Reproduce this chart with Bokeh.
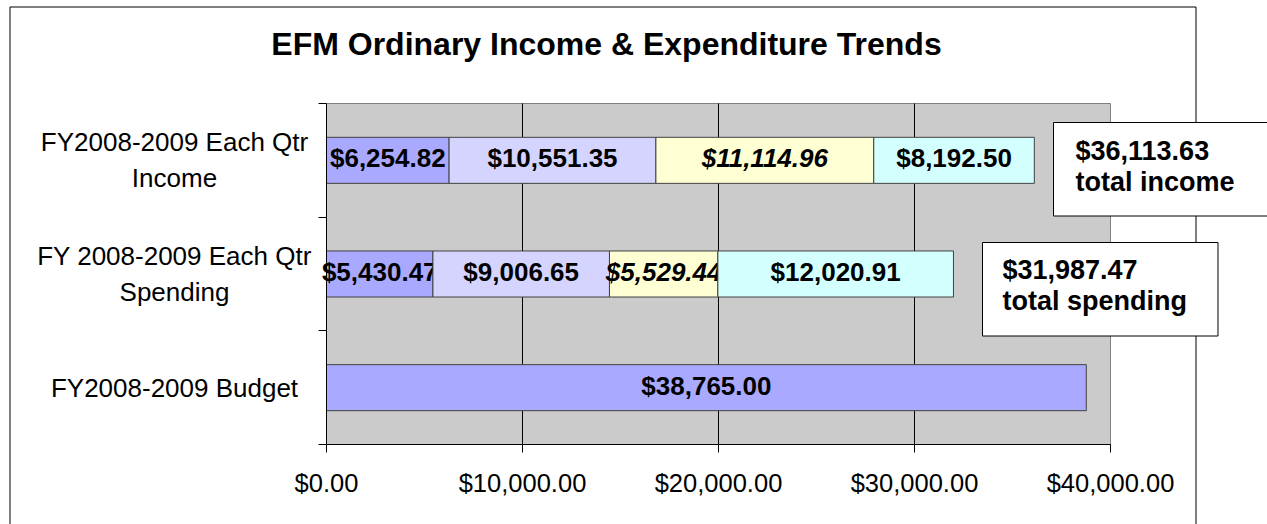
import numpy as np
from bokeh.plotting import figure
from bokeh.models import (Range1d, LinearAxis, FixedTicker,
                          NumeralTickFormatter, Label, BoxAnnotation)
from bokeh.core.properties import value
from bokeh.embed import file_html
from bokeh.resources import INLINE

# ---------------- data ----------------
categories = ["FY2008-2009 Budget",
              "FY 2008-2009 Each Qtr\nSpending",
              "FY2008-2009 Each Qtr\nIncome"]
income_qtr = [6254.82, 10551.35, 11114.96, 8192.50]
spending_qtr = [5430.47, 9006.65, 5529.44, 12020.91]
budget = [38765.00]
qtr_colors = ["#A9A9FF", "#D4D4FF", "#FFFFD4", "#D4FFFF"]
qtr_font_styles = ["bold", "bold", "bold italic", "bold"]
x_ticks = [0, 10000, 20000, 30000, 40000]
title_text = "EFM Ordinary Income & Expenditure Trends"

FONT = "Liberation Sans"
W, H = 1267, 524
# pixel box of the plot area on the canvas (layout only)
PA_L, PA_R, PA_T, PA_B = 326, 1110, 103, 444

n = len(categories)
ypos = {c: i + 0.5 for i, c in enumerate(categories)}   # band centres
x_lo, x_hi = x_ticks[0], x_ticks[-1]
kx = (x_hi - x_lo) / (PA_R - PA_L)
ky = n / (PA_B - PA_T)
def px_to_x(px):
    return x_lo + (px - PA_L) * kx

p = figure(width=W, height=H,
           x_range=Range1d(px_to_x(0), px_to_x(W)),
           y_range=Range1d(-(H - PA_B) * ky, n + PA_T * ky),
           output_backend="svg", toolbar_location=None,
           x_axis_location=None, y_axis_location=None,
           min_border=0, min_border_left=0, min_border_right=0,
           min_border_top=0, min_border_bottom=0)
p.title.visible = False
p.background_fill_color = "white"
p.border_fill_color = "white"
p.outline_line_color = None
p.grid.visible = False

# outer chart border
p.add_layout(BoxAnnotation(left=9.5, right=1195.5, top=6.5, bottom=H + 20,
                           left_units="canvas", right_units="canvas",
                           top_units="canvas", bottom_units="canvas",
                           fill_color=None, fill_alpha=0,
                           line_color="black", line_width=1, line_alpha=1))

# plot area (grey)
p.add_layout(BoxAnnotation(left=x_lo, right=x_hi, bottom=0, top=n,
                           fill_color="#CBCBCB", fill_alpha=1,
                           line_color="#808080", line_width=1, line_alpha=1,
                           level="underlay"))

# vertical gridlines at the x ticks
p.segment(x0=x_ticks[1:-1], y0=[0] * (len(x_ticks) - 2),
          x1=x_ticks[1:-1], y1=[n] * (len(x_ticks) - 2),
          line_color="black", line_width=1)

# x axis
xax = LinearAxis(fixed_location=0, bounds=(x_lo, x_hi),
                 ticker=FixedTicker(ticks=x_ticks),
                 formatter=NumeralTickFormatter(format="$0,0.00"),
                 major_tick_out=8, major_tick_in=0, minor_tick_line_color=None,
                 axis_line_color="black", major_tick_line_color="black",
                 major_label_text_font=FONT, major_label_text_font_size="25.5px",
                 major_label_text_color="black", major_label_standoff=16)
p.add_layout(xax, "below")

# y axis: tick marks at band boundaries
yax = LinearAxis(fixed_location=x_lo, bounds=(0, n),
                 ticker=FixedTicker(ticks=list(range(n + 1))),
                 major_label_overrides={i: "" for i in range(n + 1)},
                 major_tick_out=8, major_tick_in=0, minor_tick_line_color=None,
                 axis_line_color="black", major_tick_line_color="black",
                 major_label_text_font_size="1px")
p.add_layout(yax, "left")

# category labels (centred lines, as in the original)
p.text(x=[px_to_x(174)] * n, y=[ypos[c] for c in categories], text=categories,
       text_align="center", text_baseline="middle", text_line_height=1.2,
       text_font=value(FONT), text_font_size="26px", text_color="black")

# stacked bars
BAR_H = 0.405
def stacked(cat, vals):
    right = np.cumsum(vals)
    left = right - np.array(vals)
    for i, v in enumerate(vals):
        p.hbar(y=[ypos[cat]], left=[left[i]], right=[right[i]], height=BAR_H,
               fill_color=qtr_colors[i], line_color="#404040", line_width=1)
        p.text(x=[(left[i] + right[i]) / 2], y=[ypos[cat]], text=[f"${v:,.2f}"],
               text_align="center", text_baseline="middle", y_offset=-2,
               text_font=value(FONT), text_font_size="26px",
               text_font_style=qtr_font_styles[i], text_color="black")

stacked(categories[2], income_qtr)
stacked(categories[1], spending_qtr)

p.hbar(y=[ypos[categories[0]]], left=[0], right=budget, height=BAR_H,
       fill_color=qtr_colors[0], line_color="#404040", line_width=1)
p.text(x=[budget[0] / 2], y=[ypos[categories[0]]], text=[f"${budget[0]:,.2f}"],
       text_align="center", text_baseline="middle", y_offset=-2,
       text_font=value(FONT), text_font_size="26px", text_font_style="bold",
       text_color="black")

# title
p.add_layout(Label(x=606, y=43, x_units="canvas", y_units="canvas", text=title_text,
                   text_align="center", text_baseline="middle",
                   text_font=FONT, text_font_size="32px", text_font_style="bold",
                   text_color="black"))

# total boxes
income_total = sum(income_qtr)
spending_total = sum(spending_qtr)
for txt, x, y, pad in [
        (f"${income_total:,.2f}\ntotal income", 1053, 122, dict(left=22, right=70, top=13, bottom=19)),
        (f"${spending_total:,.2f}\ntotal spending", 982, 242, dict(left=20, right=31, top=12, bottom=20))]:
    p.add_layout(Label(x=x, y=y, x_units="canvas", y_units="canvas", text=txt,
                       anchor="top_left", padding=pad, text_line_height=1.05,
                       text_font=FONT, text_font_size="27px", text_font_style="bold",
                       text_color="black", background_fill_color="white",
                       border_line_color="black", border_line_width=1))

open("out.html", "w").write(file_html(p, INLINE))
